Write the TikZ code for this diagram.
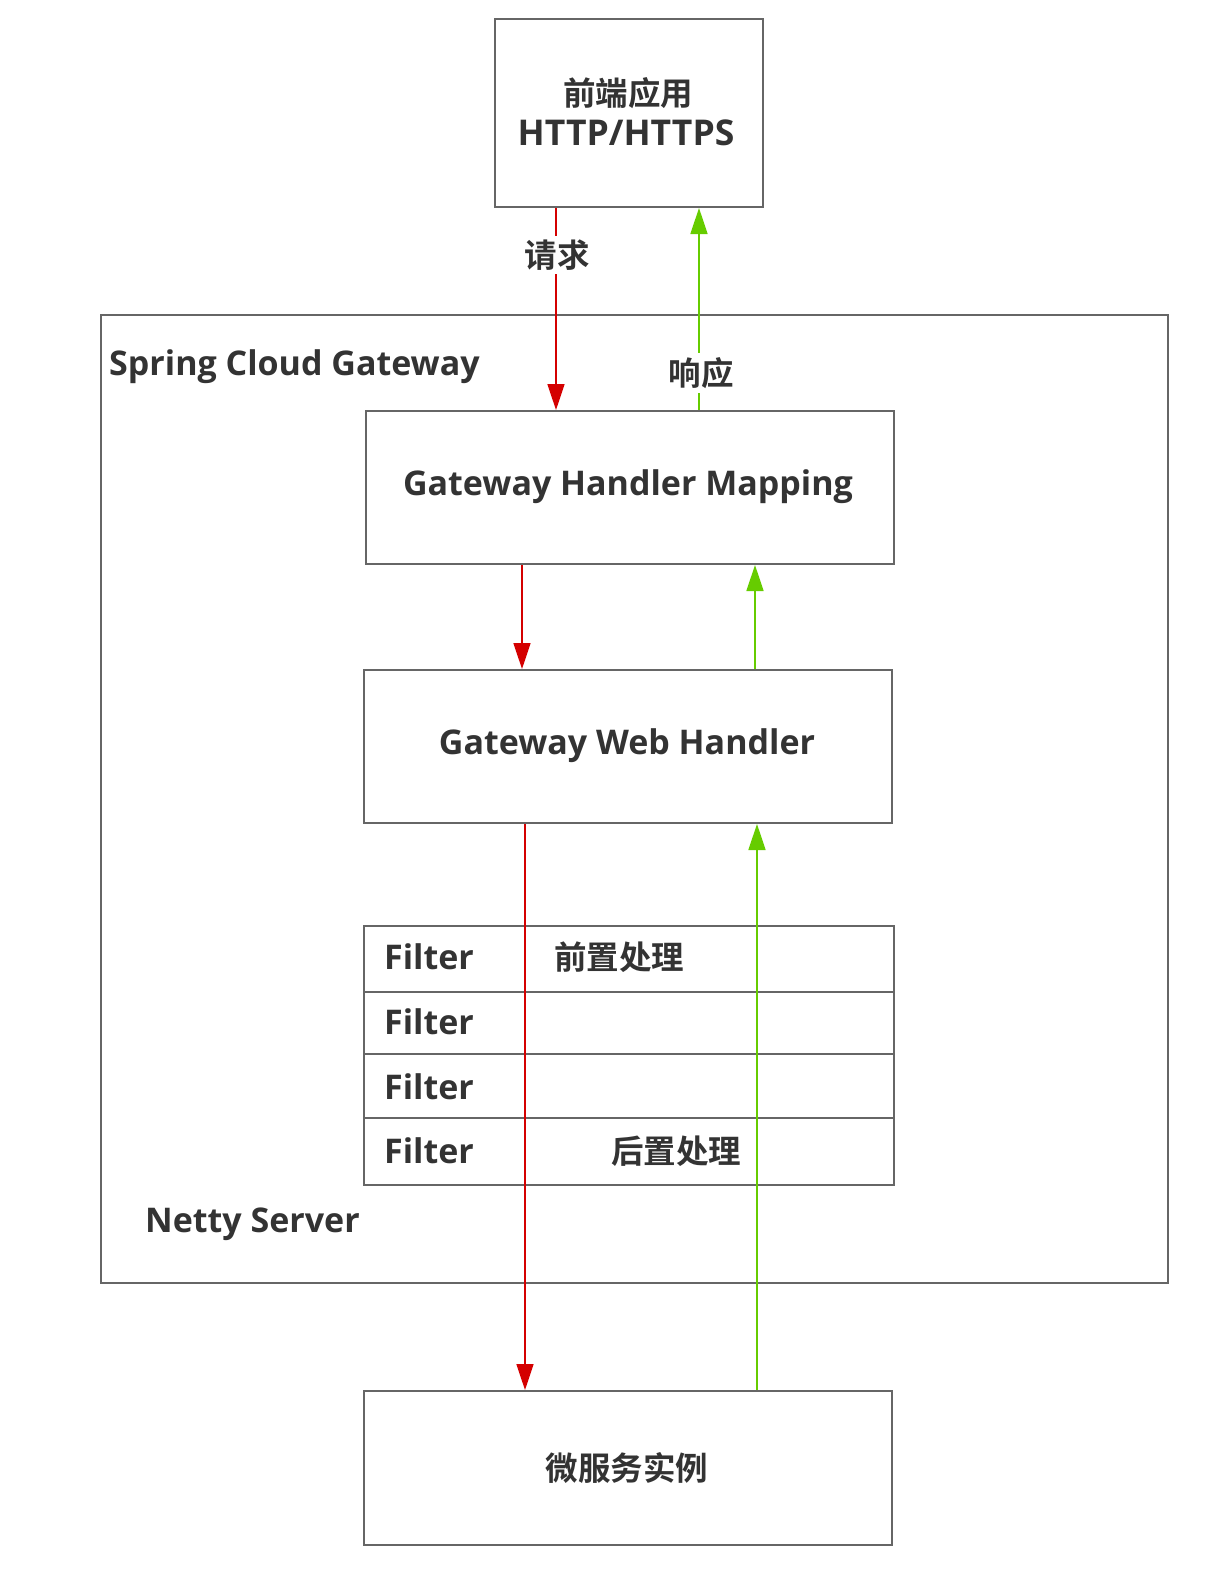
\documentclass[tikz,border=0pt]{standalone}
\usepackage{fontspec}
\setmainfont{Open Sans}[UprightFont=* Bold]
\newfontfamily\cjk{Noto Sans CJK SC}[UprightFont=* Bold]
\usetikzlibrary{arrows.meta}
\definecolor{txt}{HTML}{333333}
\definecolor{edge}{HTML}{666666}
\definecolor{reqred}{HTML}{D40000}
\definecolor{resgreen}{HTML}{66CC00}
\tikzset{
  x=1pt,y=-1pt,
  box/.style={draw=edge,line width=2pt,fill=white},
  lbl/.style={text=txt,font=\fontsize{34}{40}\selectfont,inner sep=0pt},
  cjklbl/.style={text=txt,font=\fontsize{32.5}{38}\selectfont\cjk,inner sep=0pt},
  req/.style={draw=reqred,line width=1.6pt,-{Triangle[length=26pt,width=17pt]}},
  res/.style={draw=resgreen,line width=1.6pt,-{Triangle[length=26pt,width=17pt]}},
}
\begin{document}
\begin{tikzpicture}
\useasboundingbox (0,0) rectangle (1216,1588);
% outer gateway box
\draw[box] (101,315) rectangle (1168,1283);
\node[lbl,anchor=west] (scg) at (109,367) {Spring Cloud Gateway};
\node[lbl,anchor=west] (netty) at (145,1224) {Netty Server};
% front end
\draw[box] (495,19) rectangle (763,207);
\node[cjklbl] (feA) at (628,93) {前端应用};
\node[lbl,font=\fontsize{35.5}{40}\selectfont] (feB) at (626,133) {HTTP/HTTPS};
% handler mapping
\draw[box] (366,411) rectangle (894,564);
\node[lbl] (ghm) at (628,487) {Gateway Handler Mapping};
% web handler
\draw[box] (364,670) rectangle (892,823);
\node[lbl] (gwh) at (627,746) {Gateway Web Handler};
% filters
\draw[box] (364,926) rectangle (894,1185);
\draw[edge,line width=2pt] (364,992) -- (894,992) (364,1054) -- (894,1054) (364,1118) -- (894,1118);
\node[lbl,anchor=west] (f1) at (384,957) {Filter};
\node[lbl,anchor=west] (f2) at (384,1022) {Filter};
\node[lbl,anchor=west] (f3) at (384,1087) {Filter};
\node[lbl,anchor=west] (f4) at (384,1151) {Filter};
\node[cjklbl,anchor=west] (pre) at (554,957) {前置处理};
\node[cjklbl,anchor=west] (post) at (611,1151) {后置处理};
% microservice
\draw[box] (364,1391) rectangle (892,1545);
\node[cjklbl] (ms) at (627,1468) {微服务实例};
% coordinates for arrow ends
\coordinate (a1s) at (556,208);
\coordinate (a1e) at (556,410);
\coordinate (b1s) at (699,410);
\coordinate (b1e) at (699,208);
\coordinate (a2s) at (522,565);
\coordinate (a2e) at (522,669);
\coordinate (b2s) at (755,669);
\coordinate (b2e) at (755,565);
\coordinate (a3s) at (525,824);
\coordinate (a3e) at (525,1390);
\coordinate (b3s) at (757,1390);
\coordinate (b3e) at (757,824);
% arrows
\draw[req] (a1s) -- (a1e);
\draw[res] (b1s) -- (b1e);
\draw[req] (a2s) -- (a2e);
\draw[res] (b2s) -- (b2e);
\draw[req] (a3s) -- (a3e);
\draw[res] (b3s) -- (b3e);
\node[cjklbl,fill=white,inner ysep=4pt,inner xsep=0pt] (reqlbl) at (557,255) {请求};
\node[cjklbl,fill=white,inner ysep=4pt,inner xsep=0pt] (reslbl) at (701,373) {响应};
\end{tikzpicture}
\end{document}
